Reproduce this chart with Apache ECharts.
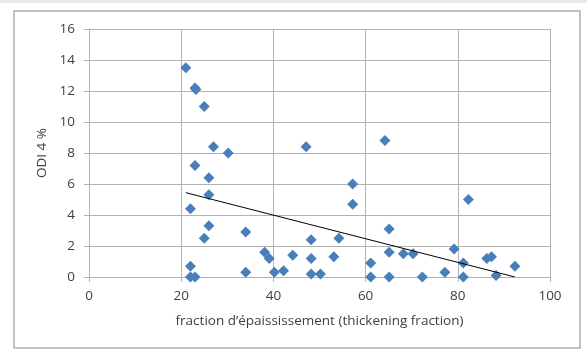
<!DOCTYPE html>
<html>
<head>
<meta charset="utf-8">
<script src="https://cdn.jsdelivr.net/npm/echarts@6/dist/echarts.min.js"></script>
<style>
html,body{margin:0;padding:0;background:#fff;}
#chart{width:587px;height:351px;}
</style>
</head>
<body>
<div id="chart"></div>
<script>
// Data
const thickeningFraction = [21, 23, 23.2, 25, 27, 30.2, 47.1, 23, 26, 26, 22, 26, 25, 34, 22, 22, 23, 34, 38.1, 39.1, 40.2, 42.2, 44.2, 48.2, 48.2, 48.2, 50.2, 53.1, 54.2, 57.2, 57.2, 64.2, 82.3, 65.1, 61.1, 61.1, 65.1, 65.1, 68.2, 70.3, 72.3, 77.2, 79.2, 81.2, 81.2, 86.3, 87.3, 88.3, 92.4];
const odi4 = [13.5, 12.2, 12.1, 11.0, 8.4, 8.0, 8.4, 7.2, 6.4, 5.3, 4.4, 3.3, 2.5, 2.9, 0.7, 0.0, 0.0, 0.3, 1.6, 1.2, 0.3, 0.4, 1.4, 2.4, 1.2, 0.2, 0.2, 1.3, 2.5, 6.0, 4.7, 8.8, 5.0, 3.1, 0.9, 0.0, 1.6, 0.0, 1.5, 1.5, 0.0, 0.3, 1.8, 0.9, 0.0, 1.2, 1.3, 0.1, 0.7];
const trendX = [21, 92.4];
const trendY = [5.44, 0.0];
const xTicks = [0, 20, 40, 60, 80, 100];
const yTicks = [0, 2, 4, 6, 8, 10, 12, 14, 16];
const xTitle = "fraction d’épaississement (thickening fraction)";
const yTitle = "ODI 4 %";

const points = thickeningFraction.map((x, i) => [x, odi4[i]]);
const trend = trendX.map((x, i) => [x, trendY[i]]);

const FONT = "'Open Sans', 'Noto Sans', sans-serif";
const grey = '#b3b3b3';
const chart = echarts.init(document.getElementById('chart'), null, {renderer: 'canvas'});
chart.setOption({
  animation: false,
  backgroundColor: '#fff',
  graphic: [
    {type: 'rect', shape: {x: 0, y: 0, width: 587, height: 3}, style: {fill: '#e8e9eb'}, silent: true, z: -10},
    {type: 'rect', shape: {x: 14, y: 11, width: 566, height: 337}, style: {fill: 'none', stroke: '#b0b0b0', lineWidth: 1.5}, silent: true, z: -10}
  ],
  grid: {left: 89, right: 37, top: 29, bottom: 74, containLabel: false},
  xAxis: {
    type: 'value', min: xTicks[0], max: xTicks[xTicks.length - 1], interval: 20,
    name: xTitle, nameLocation: 'middle', nameGap: 37,
    nameTextStyle: {fontFamily: FONT, fontSize: 13.5, color: '#404040'},
    axisLine: {show: true, lineStyle: {color: grey, width: 1}},
    axisTick: {show: true, inside: false, length: 5, lineStyle: {color: grey}},
    axisLabel: {fontFamily: FONT, fontSize: 13.5, color: '#404040', margin: 12},
    splitLine: {show: true, lineStyle: {color: grey, width: 1}}
  },
  yAxis: {
    type: 'value', min: yTicks[0], max: yTicks[yTicks.length - 1], interval: 2,
    name: yTitle, nameLocation: 'middle', nameGap: 37, nameRotate: 90,
    nameTextStyle: {fontFamily: FONT, fontSize: 13.5, color: '#404040'},
    axisLine: {show: true, lineStyle: {color: grey, width: 1}},
    axisTick: {show: true, inside: false, length: 5, lineStyle: {color: grey}},
    axisLabel: {fontFamily: FONT, fontSize: 13.5, color: '#404040', margin: 14},
    splitLine: {show: true, lineStyle: {color: grey, width: 1}}
  },
  series: [
    {
      type: 'scatter', data: points, symbol: 'diamond', symbolSize: 11,
      itemStyle: {color: '#4a7ebb', opacity: 1}, z: 3
    },
    {
      type: 'line', data: trend, showSymbol: false, symbol: 'none',
      lineStyle: {color: '#000', width: 1}, z: 4, silent: true
    }
  ]
});
</script>
</body>
</html>
